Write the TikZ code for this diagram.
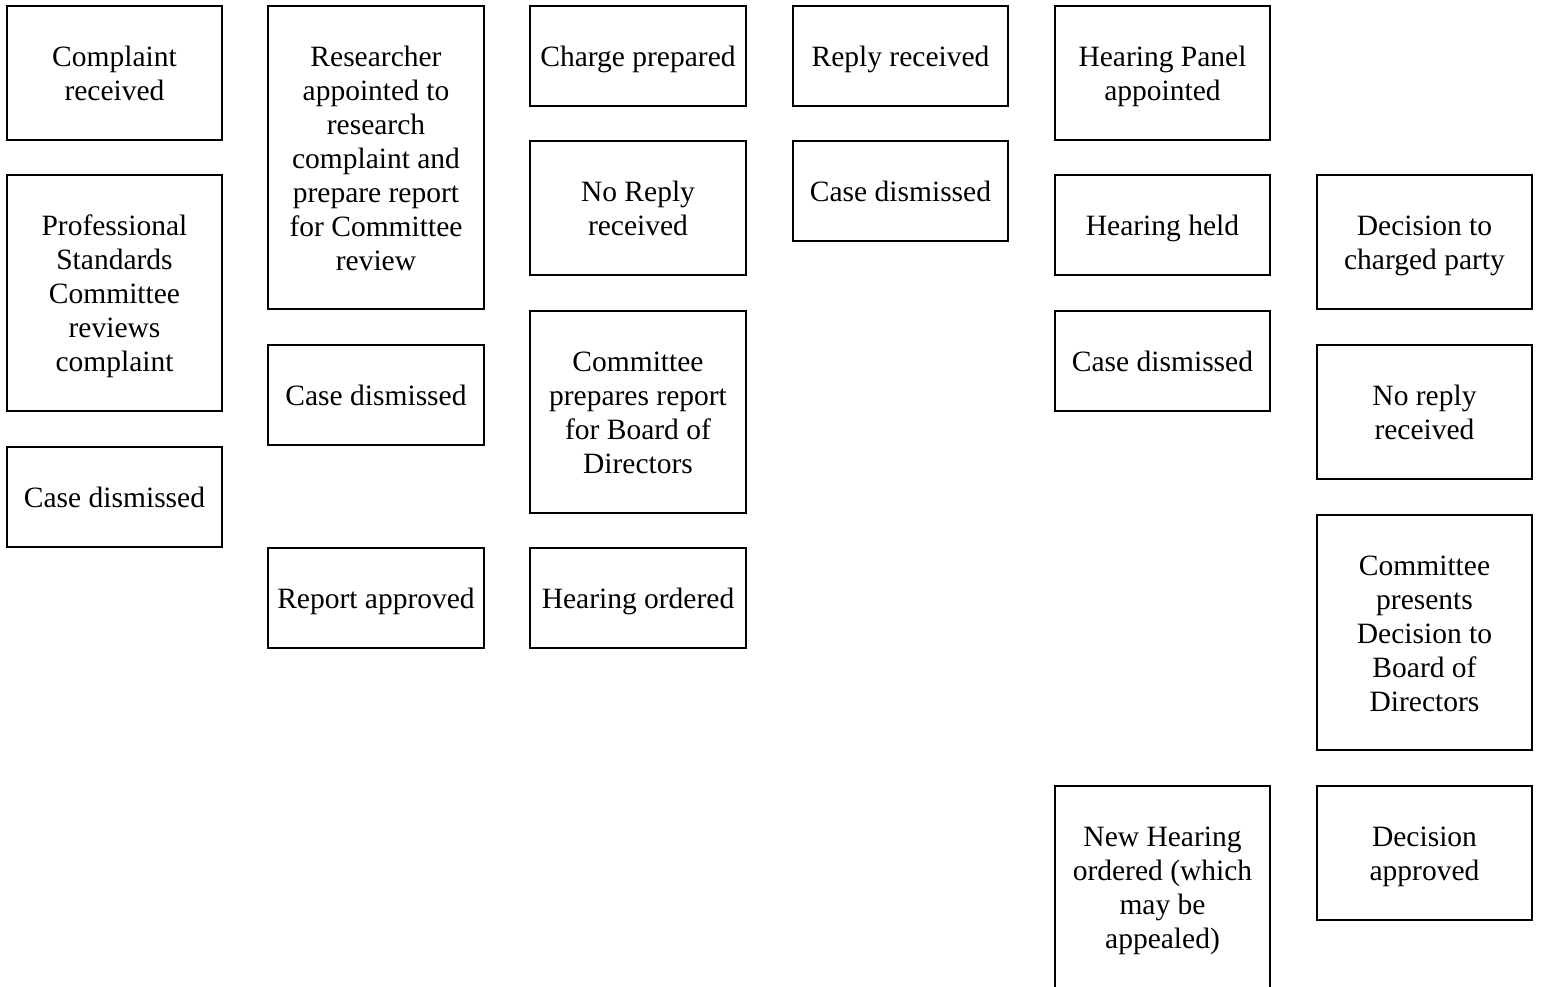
\documentclass[tikz,border=0pt]{standalone}
\usepackage{fontspec}
\setmainfont{Liberation Serif}
\newcommand\ls{\rule[-6pt]{0pt}{33pt}}
\begin{document}
\begin{tikzpicture}[x=1pt,y=-1pt,
  box/.style={draw=black, line width=2pt, fill=white, align=center, inner sep=0pt, outer sep=0pt,
    font=\fontsize{29.5}{34}\selectfont},
  wA/.style={minimum width=215pt},
  wB/.style={minimum width=216pt}]
\useasboundingbox (0,0) rectangle (1541,987);
% column 1
\node[box,wA,minimum height=134pt] (c1a) at (114.5,73) {\ls Complaint\\\ls received};
\node[box,wA,minimum height=236pt] (c1b) at (114.5,293) {\ls Professional\\\ls Standards\\\ls Committee\\\ls reviews\\\ls complaint};
\node[box,wA,minimum height=100pt] (c1c) at (114.5,497) {\ls Case dismissed};
% column 2
\node[box,wB,minimum height=303pt] (c2a) at (376,157.5) {\ls Researcher\\\ls appointed to\\\ls research\\\ls complaint and\\\ls prepare report\\\ls for Committee\\\ls review};
\node[box,wB,minimum height=100pt] (c2b) at (376,395) {\ls Case dismissed};
\node[box,wB,minimum height=100pt] (c2c) at (376,598) {\ls Report approved};
% column 3
\node[box,wB,minimum height=100pt] (c3a) at (638,56) {\ls Charge prepared};
\node[box,wB,minimum height=134pt] (c3b) at (638,208) {\ls No Reply\\\ls received};
\node[box,wB,minimum height=202pt] (c3c) at (638,412) {\ls Committee\\\ls prepares report\\\ls for Board of\\\ls Directors};
\node[box,wB,minimum height=100pt] (c3d) at (638,598) {\ls Hearing ordered};
% column 4
\node[box,wA,minimum height=100pt] (c4a) at (900.5,56) {\ls Reply received};
\node[box,wA,minimum height=100pt] (c4b) at (900.5,191) {\ls Case dismissed};
% column 5
\node[box,wA,minimum height=134pt] (c5a) at (1162.5,73) {\ls Hearing Panel\\\ls appointed};
\node[box,wA,minimum height=100pt] (c5b) at (1162.5,225) {\ls Hearing held};
\node[box,wA,minimum height=100pt] (c5c) at (1162.5,361) {\ls Case dismissed};
\node[box,wA,minimum height=203pt] (c5d) at (1162.5,887.5) {\ls New Hearing\\\ls ordered (which\\\ls may be\\\ls appealed)};
% column 6
\node[box,wA,minimum height=134pt] (c6a) at (1424.5,242) {\ls Decision to\\\ls charged party};
\node[box,wA,minimum height=134pt] (c6b) at (1424.5,412) {\ls No reply\\\ls received};
\node[box,wA,minimum height=235pt] (c6c) at (1424.5,632.5) {\ls Committee\\\ls presents\\\ls Decision to\\\ls Board of\\\ls Directors};
\node[box,wA,minimum height=134pt] (c6d) at (1424.5,853) {\ls Decision\\\ls approved};
\end{tikzpicture}
\end{document}
